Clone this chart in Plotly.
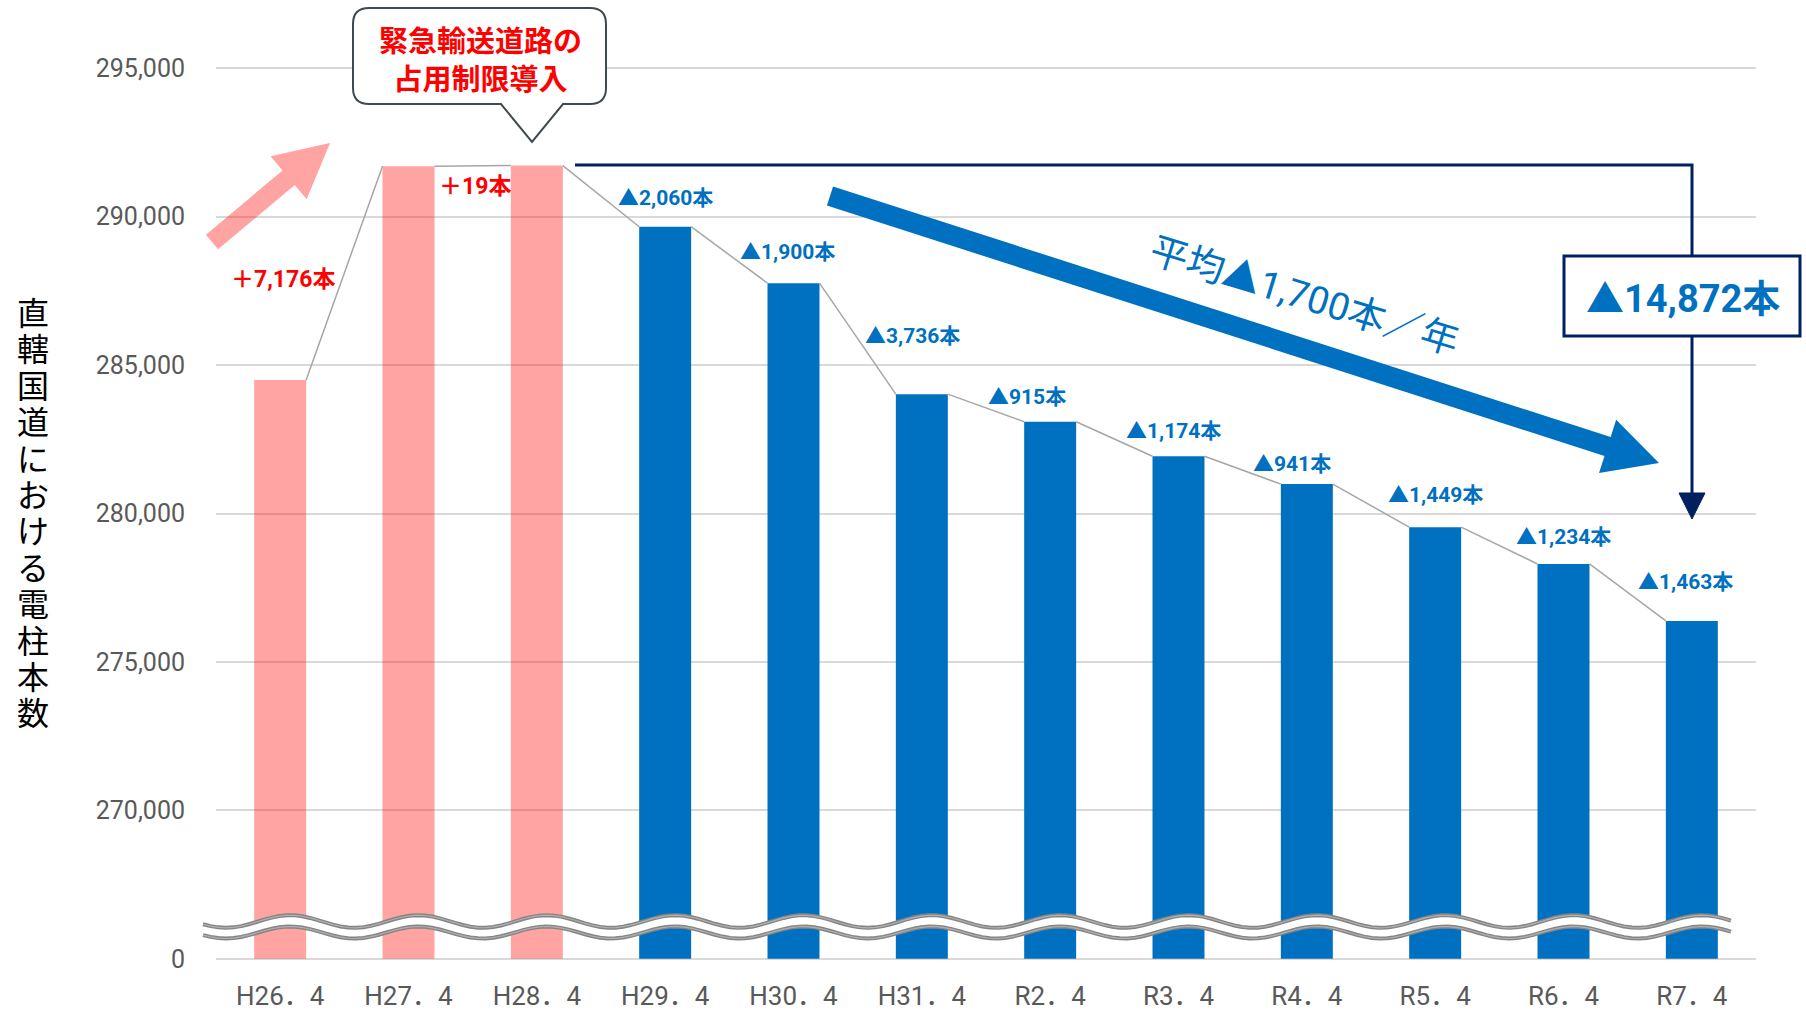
import math
import plotly.graph_objects as go

# ---------------- data ----------------
categories = ["H26．4", "H27．4", "H28．4", "H29．4", "H30．4", "H31．4",
              "R2．4", "R3．4", "R4．4", "R5．4", "R6．4", "R7．4"]
pole_counts = [284500, 291700, 291720, 289660, 287760, 284020,
               283090, 281930, 280990, 279540, 278300, 276380]
phase = ["before"] * 3 + ["after"] * 9
increase_labels = ["＋7,176本", "＋19本"]
decrease_labels = ["▲2,060本", "▲1,900本", "▲3,736本", "▲915本", "▲1,174本",
                   "▲941本", "▲1,449本", "▲1,234本", "▲1,463本"]
y_tick_values = [0, 270000, 275000, 280000, 285000, 290000, 295000]
y_tick_text = ["0", "270,000", "275,000", "280,000", "285,000", "290,000", "295,000"]
axis_title = "直轄国道における電柱本数"
callout_lines = ["緊急輸送道路の", "占用制限導入"]
trend_text = "平均▲1,700本／年"
total_text = "▲14,872本"

AXIS_BREAK = 265000  # values below this are collapsed (broken axis)

# ---------------- styles ----------------
PINK = "rgba(255,0,0,0.36)"
BLUE = "#0070C0"
NAVY = "#002060"
RED = "#FF0000"
GRID = "#D9D9D9"
TICK = "#595959"
NUM_FONT = "Roboto, Noto Sans CJK JP"
CJK_FONT = "Noto Sans CJK JP"

W, H = 1806, 1017
L, R, T, B = 216, 50, 67, 57
PW, PH = W - L - R, H - T - B
BAR_W = 0.405


def P(x, y):
    """pixel -> paper"""
    return (x - L) / PW, (H - B - y) / PH


def pth(cmds):
    out = []
    for c in cmds:
        if c[0] == "Z":
            out.append("Z")
        else:
            out.append(c[0] + " ".join("%.5f,%.5f" % P(*p) for p in c[1:]))
    return " ".join(out)


def arrow_path(tail, tip, shaft_half, head_half, head_len):
    dx, dy = tip[0] - tail[0], tip[1] - tail[1]
    ln = math.hypot(dx, dy)
    ux, uy = dx / ln, dy / ln
    nx, ny = -uy, ux
    bx, by = tip[0] - ux * head_len, tip[1] - uy * head_len
    pts = [
        (tail[0] + nx * shaft_half, tail[1] + ny * shaft_half),
        (bx + nx * shaft_half, by + ny * shaft_half),
        (bx + nx * head_half, by + ny * head_half),
        tip,
        (bx - nx * head_half, by - ny * head_half),
        (bx - nx * shaft_half, by - ny * shaft_half),
        (tail[0] - nx * shaft_half, tail[1] - ny * shaft_half),
    ]
    return pth([("M", pts[0])] + [("L", p) for p in pts[1:]] + [("Z",)])


plot_y = [v - AXIS_BREAK for v in pole_counts]
tick_pos = [0] + [v - AXIS_BREAK for v in y_tick_values[1:]]
xs = list(range(len(categories)))
colors = [PINK if p == "before" else BLUE for p in phase]

fig = go.Figure()
fig.add_trace(go.Bar(x=xs, y=plot_y, width=BAR_W, marker=dict(color=colors, line=dict(width=0)),
                     hoverinfo="skip"))

# connector line between bar tops
lx, ly = [], []
for i in range(len(xs) - 1):
    lx += [xs[i] + BAR_W / 2, xs[i + 1] - BAR_W / 2, None]
    ly += [plot_y[i], plot_y[i + 1], None]
fig.add_trace(go.Scatter(x=lx, y=ly, mode="lines", line=dict(color="#A6A6A6", width=1.5),
                         hoverinfo="skip"))

shapes = []
annotations = []

# axis break wave
px_per_cat = PW / len(categories)
x0w, x1w = 203, 1731
top_pts, bot_pts = [], []
n = 200
for k in range(n + 1):
    x = x0w + (x1w - x0w) * k / n
    ph = 2 * math.pi * (x - (L + px_per_cat / 2 + 10)) / px_per_cat
    top_pts.append((x, 921.5 - 6.3 * math.cos(ph)))
    bot_pts.append((x, 932.5 - 6.0 * math.cos(ph)))
band = [("M", top_pts[0])] + [("L", p) for p in top_pts[1:]] + \
       [("L", p) for p in reversed(bot_pts)] + [("Z",)]
shapes.append(dict(type="path", xref="paper", yref="paper", path=pth(band),
                   fillcolor="white", line=dict(width=0), layer="above"))
for pts in (top_pts, bot_pts):
    shapes.append(dict(type="path", xref="paper", yref="paper",
                       path=pth([("M", pts[0])] + [("L", p) for p in pts[1:]]),
                       line=dict(color="#858585", width=4), layer="above"))
    shapes.append(dict(type="path", xref="paper", yref="paper",
                       path=pth([("M", pts[0])] + [("L", p) for p in pts[1:]]),
                       line=dict(color="#B0B0B0", width=1.2), layer="above"))

# pink arrow
shapes.append(dict(type="path", xref="paper", yref="paper",
                   path=arrow_path((212, 242), (330, 143), 9.5, 28, 54),
                   fillcolor=PINK, line=dict(width=0), layer="above"))
# blue trend arrow
shapes.append(dict(type="path", xref="paper", yref="paper",
                   path=arrow_path((830, 196), (1659, 463), 10, 28, 54),
                   fillcolor=BLUE, line=dict(width=0), layer="above"))

# navy bracket
shapes.append(dict(type="path", xref="paper", yref="paper",
                   path=pth([("M", (575, 165)), ("L", (1692, 165)), ("L", (1692, 495))]),
                   line=dict(color=NAVY, width=3), layer="above"))
shapes.append(dict(type="path", xref="paper", yref="paper",
                   path=pth([("M", (1679, 493)), ("L", (1705, 493)), ("L", (1692, 519)), ("Z",)]),
                   fillcolor=NAVY, line=dict(color=NAVY, width=1), layer="above"))
bx0, by0 = P(1564, 256)
bx1, by1 = P(1800, 336)
shapes.append(dict(type="rect", xref="paper", yref="paper", x0=bx0, x1=bx1, y0=by1, y1=by0,
                   fillcolor="white", line=dict(color=NAVY, width=3), layer="above"))
tx, ty = P(1683, 299)
annotations.append(dict(xref="paper", yref="paper", x=tx, y=ty, text="<b>%s</b>" % total_text,
                        showarrow=False, xanchor="center", yanchor="middle",
                        font=dict(family=NUM_FONT, size=38, color=BLUE)))

# callout
r = 16
cx0, cx1, cy0, cy1 = 353, 606, 8, 104
callout = [("M", (cx0 + r, cy0)), ("L", (cx1 - r, cy0)), ("Q", (cx1, cy0), (cx1, cy0 + r)),
           ("L", (cx1, cy1 - r)), ("Q", (cx1, cy1), (cx1 - r, cy1)),
           ("L", (563, cy1)), ("L", (532, 142)), ("L", (501, cy1)),
           ("L", (cx0 + r, cy1)), ("Q", (cx0, cy1), (cx0, cy1 - r)),
           ("L", (cx0, cy0 + r)), ("Q", (cx0, cy0), (cx0 + r, cy0)), ("Z",)]
shapes.append(dict(type="path", xref="paper", yref="paper", path=pth(callout),
                   fillcolor="white", line=dict(color="#3F4A50", width=2), layer="above"))
ax, ay = P(480, 58)
annotations.append(dict(xref="paper", yref="paper", x=ax, y=ay,
                        text="<br>".join("<b>%s</b>" % s for s in callout_lines),
                        showarrow=False, xanchor="center", yanchor="middle",
                        font=dict(family=CJK_FONT, size=29, color=RED)))

# trend text
ax, ay = P(1304, 296)
annotations.append(dict(xref="paper", yref="paper", x=ax, y=ay, text=trend_text,
                        showarrow=False, textangle=17, xanchor="center", yanchor="middle",
                        font=dict(family=NUM_FONT, size=38, color=BLUE)))

# y axis title (vertical, upright characters) as one text block
ax, ay = P(33, 511)
annotations.append(dict(xref="paper", yref="paper", x=ax, y=ay,
                        text="<br>".join('<span style="font-size:32px">%s</span>' % ch
                                         for ch in axis_title),
                        showarrow=False, xanchor="center", yanchor="middle",
                        font=dict(family=CJK_FONT, size=28, color="black")))

# change labels
annotations.append(dict(x=xs[0], y=plot_y[0], text="<b>%s</b>" % increase_labels[0],
                        showarrow=False, xshift=3, yshift=100, xanchor="center", yanchor="middle",
                        font=dict(family=NUM_FONT, size=23, color=RED)))
annotations.append(dict(x=(xs[1] + xs[2]) / 2, y=plot_y[2], text="<b>%s</b>" % increase_labels[1],
                        showarrow=False, xshift=2, yshift=-21, xanchor="center", yanchor="middle",
                        font=dict(family=NUM_FONT, size=23, color=RED)))
label_dx = [0, -6, -9, -23, -5, -15, 0, 0, -6]
label_dy = [29, 31, 58, 25, 25, 20, 32, 27, 39]
for j, txt in enumerate(decrease_labels):
    i = j + 3
    annotations.append(dict(x=xs[i], y=plot_y[i], text="<b>%s</b>" % txt, showarrow=False,
                            xshift=label_dx[j], yshift=label_dy[j],
                            xanchor="center", yanchor="middle",
                            font=dict(family=NUM_FONT, size=21, color=BLUE)))

fig.update_layout(
    width=W, height=H, autosize=False,
    margin=dict(l=L, r=R, t=T, b=B, pad=0),
    paper_bgcolor="white", plot_bgcolor="white",
    showlegend=False, bargap=0.6,
    shapes=shapes, annotations=annotations,
    xaxis=dict(range=[-0.5, len(categories) - 0.5], tickmode="array", tickvals=xs,
               ticktext=categories, showgrid=False, zeroline=False, showline=False,
               ticks="", ticklabelstandoff=18, automargin=False,
               tickfont=dict(family=NUM_FONT, size=26, color=TICK)),
    yaxis=dict(range=[-40, 30040], tickmode="array", tickvals=tick_pos, ticktext=y_tick_text,
               showgrid=True, gridcolor=GRID, gridwidth=1.5, zeroline=False, showline=False,
               ticks="", ticklabelstandoff=30, automargin=False,
               tickfont=dict(family=NUM_FONT, size=25, color=TICK)),
)

fig.write_html("out.html", config={"displayModeBar": False},
               post_script="document.body.style.margin='0';document.body.style.overflow='hidden';")
